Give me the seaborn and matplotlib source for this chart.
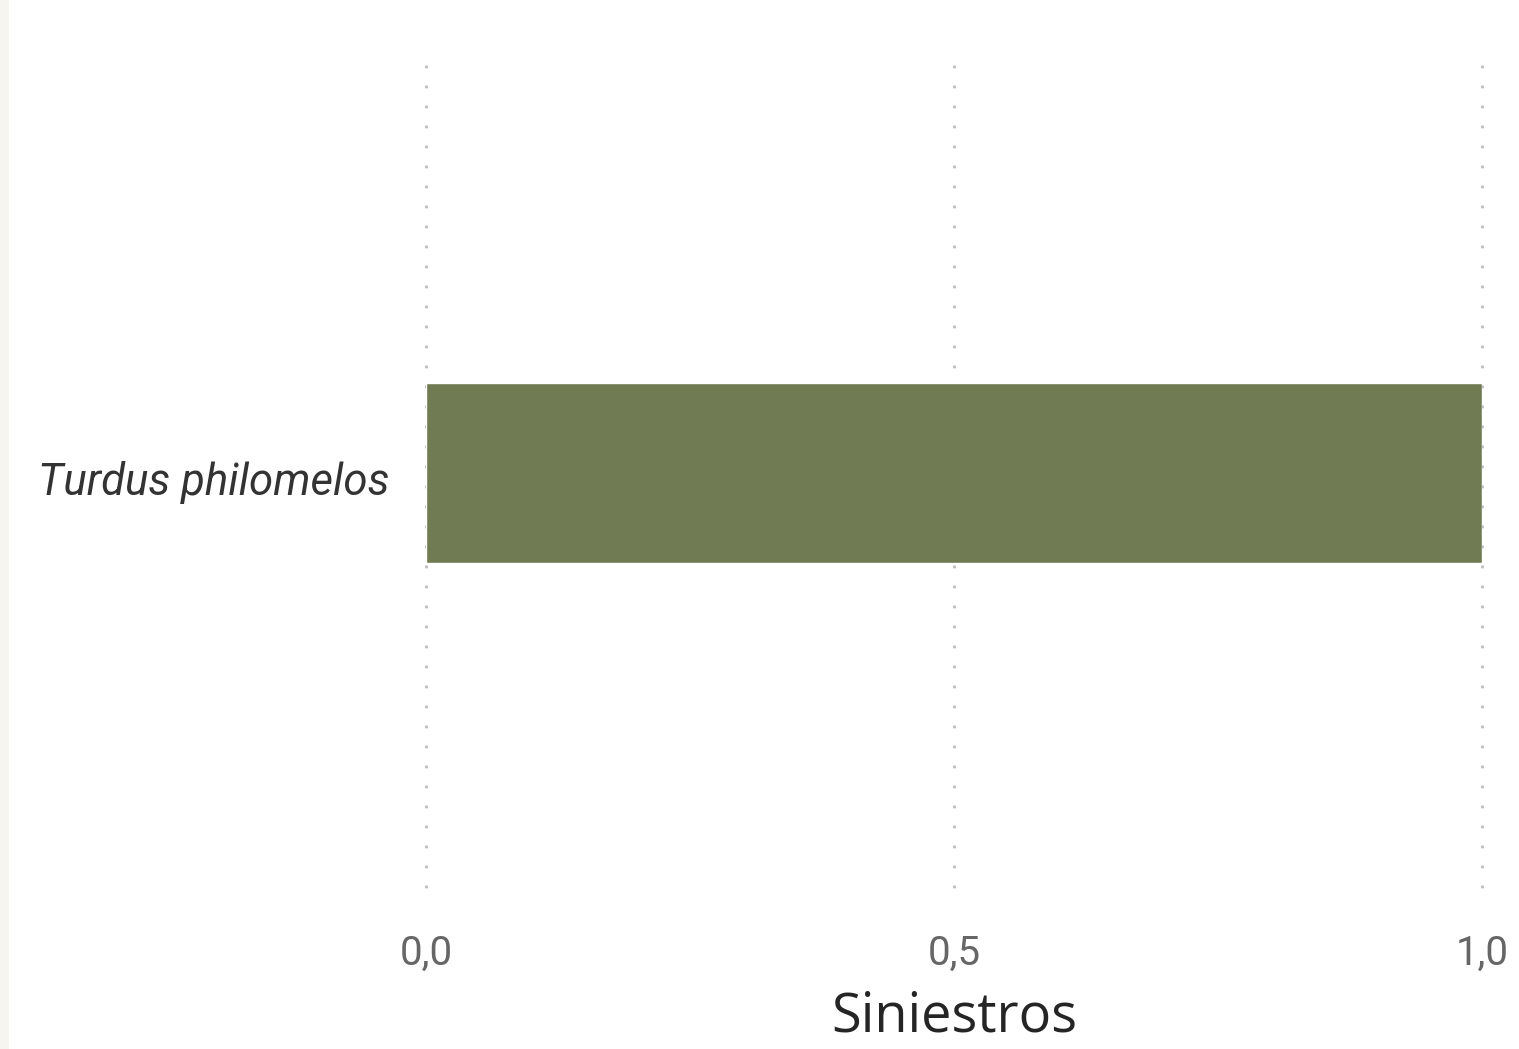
import matplotlib
matplotlib.use("Agg")
import matplotlib.pyplot as plt
import matplotlib.transforms as mtransforms
import seaborn as sns
import pandas as pd
from matplotlib.patches import Rectangle

species = ["Turdus philomelos"]
siniestros = [1.0]
xticks = [0.0, 0.5, 1.0]
xtick_labels = ["0,0", "0,5", "1,0"]

df = pd.DataFrame({"Especie": species, "Siniestros": siniestros})

sns.set_theme(style="white")
W, H = 1519, 1049
fig = plt.figure(figsize=(W / 100, H / 100), dpi=100)
fig.patch.set_facecolor("white")
fig.patches.append(Rectangle((0, 0), 9 / W, 1, transform=fig.transFigure,
                             facecolor="#f7f5ef", edgecolor="none", zorder=0))

left, right, top, bottom = 426 / W, 1482 / W, 65 / H, 905 / H
ax = fig.add_axes([left, 1 - bottom, right - left, bottom - top])

sns.barplot(data=df, x="Siniestros", y="Especie", orient="h", color="#717b53",
            width=0.214, saturation=1, ax=ax, zorder=3)

ax.set_xlim(0, 1.0)
ax.set_ylim(0.514, -0.486)
ax.set_xticks(xticks)
ax.set_xticklabels(xtick_labels, fontsize=29, color="#666666", family="Roboto")
ax.tick_params(axis="x", pad=21, length=0)
ax.tick_params(axis="y", pad=26, length=0)
shift = mtransforms.ScaledTranslation(0, -5 / 100, fig.dpi_scale_trans)
for lbl in ax.get_yticklabels():
    lbl.set_fontsize(31.5)
    lbl.set_fontstyle("italic")
    lbl.set_family("Roboto")
    lbl.set_color("#333333")
    lbl.set_transform(lbl.get_transform() + shift)

ax.grid(False)
for xv in xticks:
    ax.plot([xv, xv], [1, 0], transform=ax.get_xaxis_transform(), color="#bdbdbd",
            lw=2, linestyle=(0, (1, 6.2)), zorder=1, clip_on=False)

for s in ax.spines.values():
    s.set_visible(False)

ax.set_ylabel("")
ax.set_xlabel("Siniestros", fontsize=39, color="#252525", family="Open Sans", labelpad=12)

fig.savefig("out.png", dpi=100, facecolor="white")
